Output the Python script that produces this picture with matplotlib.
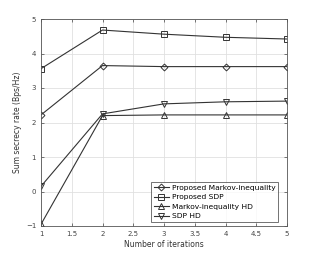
import matplotlib
matplotlib.use("Agg")
import matplotlib.pyplot as plt

iterations = [1, 2, 3, 4, 5]
markov = [2.22, 3.65, 3.62, 3.62, 3.62]
sdp = [3.56, 4.68, 4.56, 4.47, 4.42]
markov_hd = [-0.95, 2.2, 2.22, 2.22, 2.22]
sdp_hd = [0.15, 2.25, 2.54, 2.6, 2.62]
labels = ["Proposed Markov-inequality", "Proposed SDP", "Markov-inequality HD", "SDP HD"]

fig = plt.figure(figsize=(3.17, 2.54), dpi=100)
ax = fig.add_axes([41/317, 1 - 226/254, (287-41)/317, (226-19)/254])
c = "#333333"
kw = dict(color=c, lw=0.8, markersize=4, markerfacecolor="none", markeredgewidth=0.7)
ax.plot(iterations, markov, marker="D", label=labels[0], **{**kw, "markersize": 3.5})
ax.plot(iterations, sdp, marker="s", label=labels[1], **kw)
ax.plot(iterations, markov_hd, marker="^", label=labels[2], **kw)
ax.plot(iterations, sdp_hd, marker="v", label=labels[3], **kw)

ax.set_xlim(1, 5)
ax.set_ylim(-1, 5)
ax.set_xticks([1, 1.5, 2, 2.5, 3, 3.5, 4, 4.5, 5])
ax.set_xticklabels(["1", "1.5", "2", "2.5", "3", "3.5", "4", "4.5", "5"])
ax.set_yticks([-1, 0, 1, 2, 3, 4, 5])
ax.grid(True, color="#e0e0e0", lw=0.6)
ax.tick_params(labelsize=5, length=2, width=0.5, direction="in", colors="#444444", top=True, right=True)
for s in ax.spines.values():
    s.set_linewidth(0.6)
    s.set_color("#555555")
ax.set_xlabel("Number of iterations", fontsize=5.5, color="#333333", labelpad=2)
ax.set_ylabel("Sum secrecy rate (Bps/Hz)", fontsize=5.5, color="#333333", labelpad=3)
leg = ax.legend(loc="lower right", bbox_to_anchor=(0.963, 0.019), fontsize=5.4, frameon=True,
                fancybox=False, edgecolor="#333333", borderpad=0.35, labelspacing=0.45,
                handlelength=2.0, handletextpad=0.4, borderaxespad=0)
leg.get_frame().set_linewidth(0.6)
fig.savefig("out.png", dpi=100)
